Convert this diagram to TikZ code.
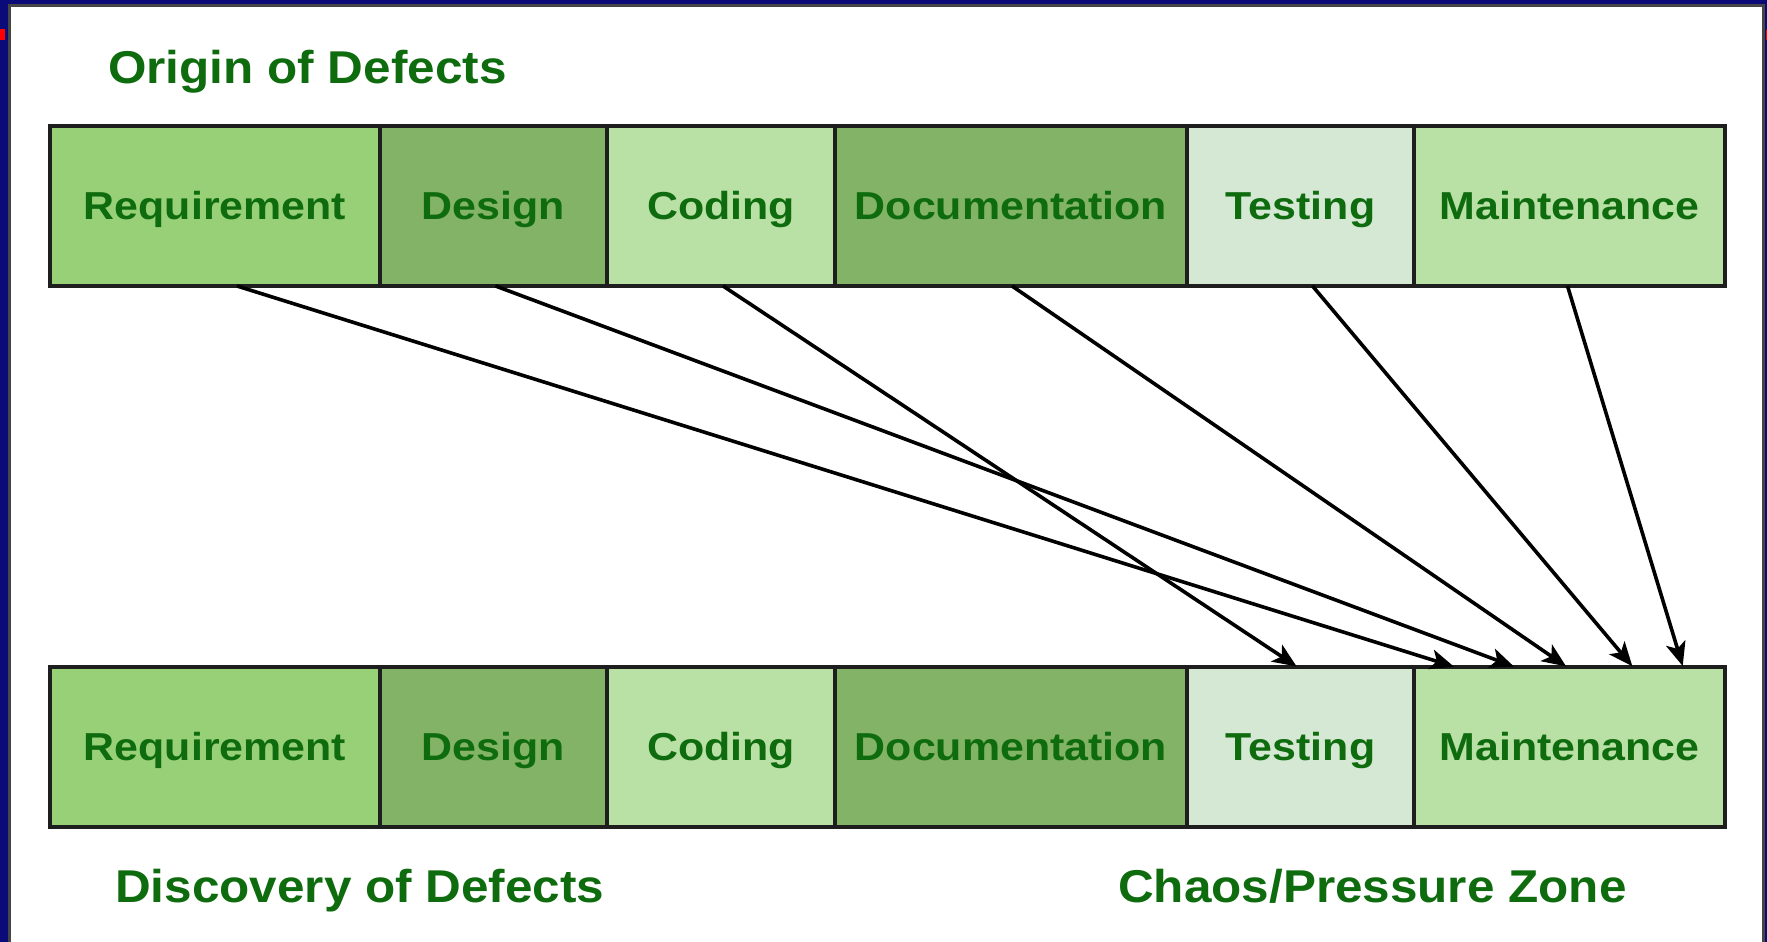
\documentclass[tikz,border=0pt]{standalone}
\usepackage{fontspec}
\usepackage{graphicx}
\setmainfont{Liberation Sans}
\usetikzlibrary{arrows.meta,calc}
\definecolor{navy}{RGB}{10,10,120}
\definecolor{framegray}{RGB}{70,70,70}
\definecolor{boxline}{RGB}{30,30,30}
\definecolor{txtgreen}{RGB}{14,108,14}
\definecolor{gA}{HTML}{97D077}
\definecolor{gB}{HTML}{82B366}
\definecolor{gC}{HTML}{B9E0A5}
\definecolor{gD}{HTML}{D5E8D4}
\newcommand{\lbl}[1]{\scalebox{1.1}[1]{#1}}
\newcommand{\ttl}[1]{\scalebox{1.075}[1]{#1}}
\begin{document}
\begin{tikzpicture}[x=1pt,y=-1pt,
  phase/.style={draw=boxline, line width=4pt, minimum height=160pt, inner sep=0pt, outer sep=0pt,
    text height=31pt, text depth=4pt, text=txtgreen, anchor=north west,
    font=\fontsize{39}{39}\selectfont\bfseries},
  heading/.style={anchor=base west, inner sep=0pt, text=txtgreen,
    font=\fontsize{46}{46}\selectfont\bfseries},
  arr/.style={draw=black, line width=3.6pt, -{Stealth[length=24pt,width=20pt,inset=6pt]}, shorten >=1pt}]
\useasboundingbox (0,0) rectangle (1767,942);
% background frame
\fill[navy] (0,0) rectangle (1767,942);
\fill[white, draw=framegray, line width=3pt] (9.5,5.5) rectangle (1763.5,946);
\fill[red] (0,29) rectangle (5,40);
\fill[red] (1765.5,30) rectangle (1767,40);
% titles
\node[heading] (t1) at (108,83) {\ttl{Origin of Defects}};
\node[heading] (t2) at (115,902) {\ttl{Discovery of Defects}};
\node[heading] (t3) at (1118,902) {\ttl{Chaos/Pressure Zone}};
% top row
\node[phase, fill=gA, minimum width=330pt] (rq1) at (50,126) {\lbl{Requirement}};
\node[phase, fill=gB, minimum width=227pt] (ds1) at (380,126) {\lbl{Design}};
\node[phase, fill=gC, minimum width=228pt] (cd1) at (607,126) {\lbl{Coding}};
\node[phase, fill=gB, minimum width=352pt] (dc1) at (835,126) {\lbl{Documentation}};
\node[phase, fill=gD, minimum width=227pt] (ts1) at (1187,126) {\lbl{Testing}};
\node[phase, fill=gC, minimum width=311pt] (mt1) at (1414,126) {\lbl{Maintenance}};
% bottom row
\node[phase, fill=gA, minimum width=330pt] (rq2) at (50,667) {\lbl{Requirement}};
\node[phase, fill=gB, minimum width=227pt] (ds2) at (380,667) {\lbl{Design}};
\node[phase, fill=gC, minimum width=228pt] (cd2) at (607,667) {\lbl{Coding}};
\node[phase, fill=gB, minimum width=352pt] (dc2) at (835,667) {\lbl{Documentation}};
\node[phase, fill=gD, minimum width=227pt] (ts2) at (1187,667) {\lbl{Testing}};
\node[phase, fill=gC, minimum width=311pt] (mt2) at (1414,667) {\lbl{Maintenance}};
% connectors
\draw[arr] ($(rq1.south)+(22,0)$) -- ($(mt2.north west)+(41,0)$);
\draw[arr] ($(ds1.south)+(2,0)$) -- ($(mt2.north west)+(101,0)$);
\draw[arr] ($(cd1.south)+(2,0)$) -- ($(ts2.north)+(-3,0)$);
\draw[arr] ($(dc1.south)+(1,0)$) -- ($(mt2.north west)+(153,0)$);
\draw[arr] ($(ts1.south)+(12,0)$) -- ($(mt2.north west)+(219,0)$);
\draw[arr] ($(mt1.south)+(-2,0)$) -- ($(mt2.north west)+(269,0)$);
\end{tikzpicture}
\end{document}
